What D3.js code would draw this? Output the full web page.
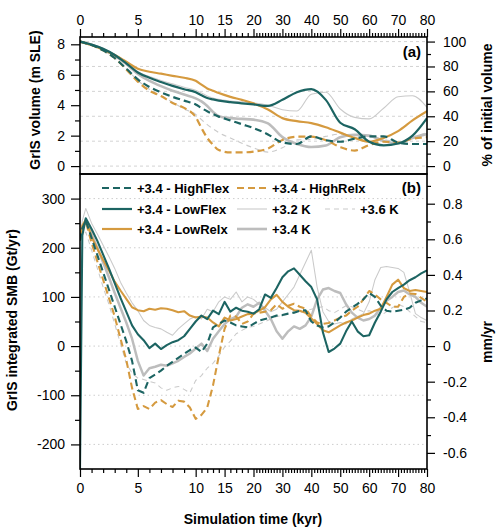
<!DOCTYPE html>
<html><head><meta charset="utf-8">
<script src="https://cdn.jsdelivr.net/npm/d3@7"></script>
<style>body{margin:0;background:#fff} text{font-family:"Liberation Sans",Arial,Helvetica,sans-serif}</style>
</head><body><svg id="c" width="500" height="531"></svg>
<script>
// ---------- data ----------
const timeA = [0,1,2,3,4,5,6,7,8,9,10,11,12,13,14,16,18,20,25,30,35,40,45,50,55,60,65,70,75,80];
const volHighFlex = [8.18,7.95,7.6,7.1,6.4,5.7,5.2,4.85,4.55,4.3,4.05,3.82,3.6,3.42,3.25,3.0,2.75,2.5,2.08,1.55,1.45,1.95,1.7,1.6,1.8,1.95,1.95,1.55,1.45,1.45];
const volHighRelx = [8.18,7.95,7.6,7.1,6.35,5.55,4.95,4.6,4.15,3.82,3.22,2.5,1.85,1.4,1.05,0.9,0.9,0.95,1.15,1.72,1.93,1.93,1.7,1.25,1.02,1.38,1.6,1.55,1.8,1.9];
const volLowFlex  = [8.18,7.98,7.7,7.3,6.75,6.15,5.8,5.52,5.27,5.05,4.85,4.65,4.47,4.38,4.3,4.2,4.12,4.05,3.95,4.35,4.85,5.05,4.35,2.85,2.42,1.6,1.36,1.48,2.0,3.15];
const volLowRelx  = [8.18,7.95,7.65,7.3,6.85,6.4,6.2,6.07,5.93,5.8,5.6,5.35,5.1,4.95,4.8,4.55,4.35,4.12,3.72,3.15,2.95,2.82,2.55,2.2,1.85,1.6,1.85,2.3,3.0,3.6];
const vol32K      = [8.18,7.98,7.72,7.35,6.85,6.2,5.88,5.62,5.4,5.18,4.98,4.8,4.6,4.47,4.38,4.28,4.22,4.15,4.0,3.7,3.62,4.72,4.85,3.75,3.2,3.1,3.8,4.55,4.62,3.85];
const vol36K      = [8.18,7.95,7.6,7.1,6.4,5.62,5.05,4.6,4.2,3.75,3.4,3.05,2.72,2.45,2.2,1.85,1.5,1.2,0.92,1.2,1.72,1.75,1.95,2.1,2.05,1.95,1.75,1.6,1.9,2.2];
const vol34K      = [8.18,7.97,7.68,7.25,6.7,6.05,5.6,5.25,4.95,4.7,4.45,4.25,3.95,3.55,3.28,3.15,3.1,3.05,2.8,1.9,1.45,1.25,1.35,1.9,2.05,2.0,1.65,1.5,1.85,2.1];

const timeB = [0,0.2,0.5,1,1.5,2,2.5,3,3.5,4,4.5,5,5.5,6,6.5,7,7.5,8,8.5,9,9.5,10,
  11,12,13,14,15,16,17,18,19,20,
  22,24,26,28,30,32,34,36,38,40,42,44,46,48,50,52,54,56,58,60,62,64,66,68,70,72,74,76,78,80];
const smbHighFlex = [215,240,255,220,185,150,115,80,45,10,-30,-90,-95,-65,-58,-50,-40,-32,-24,-16,-8,-3,
  -12,5,38,45,52,48,42,40,38,45,
  52,55,58,62,63,66,68,72,73,50,42,38,40,48,58,70,78,86,95,108,100,82,72,70,72,74,78,88,93,97];
const smbHighRelx = [215,240,253,210,172,135,98,60,15,-28,-85,-128,-122,-128,-115,-110,-118,-124,-111,-113,-125,-148,
  -140,-125,-80,-20,35,62,60,45,50,66,
  68,70,73,85,76,82,86,80,76,60,48,45,47,52,58,62,72,80,95,112,105,95,88,80,80,100,107,106,98,90];
const smbLowFlex  = [-250,225,260,238,214,186,158,128,98,70,42,24,12,-4,5,-6,2,8,12,20,35,50,
  62,55,72,65,90,70,78,72,70,66,
  75,105,98,118,140,152,158,145,132,120,95,28,-12,-5,5,30,50,30,20,22,48,70,95,110,118,125,134,140,148,154];
const smbLowRelx  = [215,245,257,222,198,175,154,131,113,96,79,73,71,76,74,77,76,73,69,71,62,58,
  60,58,48,40,58,52,55,60,65,66,
  72,79,95,104,90,80,73,72,68,56,45,32,28,35,42,48,52,58,63,66,72,76,100,125,135,118,112,114,112,110];
const smb32K      = [215,255,280,250,228,205,182,158,130,108,88,72,52,42,38,35,28,22,35,45,55,60,
  55,75,70,90,100,95,110,90,100,95,
  85,78,70,75,90,105,120,145,170,195,120,70,50,45,48,45,55,60,66,90,135,160,162,160,158,150,110,66,58,52];
const smb36K      = [215,225,232,195,158,120,85,45,5,-35,-55,-65,-68,-72,-75,-85,-90,-85,-82,-88,-95,-70,
  -60,-45,-35,-20,-2,10,25,32,38,40,
  45,50,55,60,62,66,70,68,72,75,78,80,72,68,75,82,80,75,70,72,68,62,70,78,85,80,70,60,50,48];
const smb34K      = [215,240,256,228,200,170,140,108,78,48,15,-30,-60,-45,-42,-38,-40,-35,-30,-22,-15,-5,
  5,-10,15,30,45,55,60,78,85,80,
  88,72,55,30,15,30,40,35,42,60,95,115,118,112,108,85,68,58,52,55,62,78,92,100,110,113,105,100,88,80];

const seriesNames = ["+3.4 - HighFlex","+3.4 - HighRelx","+3.4 - LowFlex","+3.2 K","+3.6 K","+3.4 - LowRelx","+3.4 K"];
const xMajorTicks = [0,5,10,15,20,30,40,50,60,70,80];
const volTicks = [0,2,4,6,8];
const pctTicks = [0,20,40,60,80,100];
const smbTicks = [-200,-100,0,100,200,300];
const mmTicks = [-0.6,-0.4,-0.2,0,0.2,0.4,0.6,0.8];
const initialVolume = 8.18;   // m SLE = 100 %
const gtPerMm = 362;          // Gt per mm SLE

// ---------- styles ----------
const TEAL = "#1c6462", ORANGE = "#d59a3f", GRAY = "#bdbdbd", LGRAY = "#cacaca";
const style = {
  "+3.4 - HighFlex": {c:TEAL, w:2.2, d:"7,4"},
  "+3.4 - HighRelx": {c:ORANGE, w:2.2, d:"7,4"},
  "+3.4 - LowFlex":  {c:TEAL, w:2.2, d:null},
  "+3.2 K":          {c:LGRAY, w:1.1, d:null},
  "+3.6 K":          {c:LGRAY, w:1.1, d:"5,4"},
  "+3.4 - LowRelx":  {c:ORANGE, w:2.2, d:null},
  "+3.4 K":          {c:GRAY, w:2.6, d:null}
};
const volData = {"+3.4 - HighFlex":volHighFlex,"+3.4 - HighRelx":volHighRelx,"+3.4 - LowFlex":volLowFlex,
  "+3.2 K":vol32K,"+3.6 K":vol36K,"+3.4 - LowRelx":volLowRelx,"+3.4 K":vol34K};
const smbData = {"+3.4 - HighFlex":smbHighFlex,"+3.4 - HighRelx":smbHighRelx,"+3.4 - LowFlex":smbLowFlex,
  "+3.2 K":smb32K,"+3.6 K":smb36K,"+3.4 - LowRelx":smbLowRelx,"+3.4 K":smb34K};
const drawOrder = ["+3.2 K","+3.6 K","+3.4 K","+3.4 - LowRelx","+3.4 - HighRelx","+3.4 - HighFlex","+3.4 - LowFlex"];

// ---------- layout ----------
const L=80, R=427, TA=37, BA=174, TB=174, BB=469;
const svg = d3.select("#c");
const x = d3.scaleLinear().domain([0,10,20,80]).range([L, L+(R-L)/3, L+(R-L)/2, R]);
const yA = d3.scaleLinear().domain([-0.52,8.48]).range([BA,TA]);
const yAr = d3.scaleLinear().domain([-0.52/initialVolume*100, 8.48/initialVolume*100]).range([BA,TA]);
const yB = d3.scaleLinear().domain([-250,350]).range([BB,TB]);
const yBr = d3.scaleLinear().domain([-250/gtPerMm, 350/gtPerMm]).range([BB,TB]);

const defs = svg.append("defs");
defs.append("clipPath").attr("id","clipA").append("rect").attr("x",L).attr("y",TA).attr("width",R-L).attr("height",BA-TA);
defs.append("clipPath").attr("id","clipB").append("rect").attr("x",L).attr("y",TB).attr("width",R-L).attr("height",BB-TB);

// grids
svg.append("g").selectAll("line").data(pctTicks).join("line")
  .attr("x1",L).attr("x2",R).attr("y1",d=>yAr(d)).attr("y2",d=>yAr(d))
  .attr("stroke","#c8c8c8").attr("stroke-width",0.8).attr("stroke-dasharray","3,3");
svg.append("g").selectAll("line").data(smbTicks).join("line")
  .attr("x1",L).attr("x2",R).attr("y1",d=>yB(d)).attr("y2",d=>yB(d))
  .attr("stroke","#c8c8c8").attr("stroke-width",0.9).attr("stroke-dasharray","1.5,3");

// lines
const lineA = d3.line().x(d=>x(d[0])).y(d=>yA(d[1])).curve(d3.curveMonotoneX);
const lineB = d3.line().x(d=>x(d[0])).y(d=>yB(d[1]));
const gA = svg.append("g").attr("clip-path","url(#clipA)");
const gB = svg.append("g").attr("clip-path","url(#clipB)");
drawOrder.forEach(n=>{
  const s = style[n];
  gA.append("path").datum(timeA.map((t,i)=>[t,volData[n][i]])).attr("d",lineA)
    .attr("fill","none").attr("stroke",s.c).attr("stroke-width",s.w).attr("stroke-dasharray",s.d)
    .attr("stroke-linejoin","round");
  gB.append("path").datum(timeB.map((t,i)=>[t,smbData[n][i]])).attr("d",lineB)
    .attr("fill","none").attr("stroke",s.c).attr("stroke-width",s.w*0.95).attr("stroke-dasharray",s.d)
    .attr("stroke-linejoin","round");
});

// frames
[[TA,BA],[TB,BB]].forEach(([t,b])=>{
  svg.append("rect").attr("x",L).attr("y",t).attr("width",R-L).attr("height",b-t)
    .attr("fill","none").attr("stroke","#000").attr("stroke-width",1.6);
});

// axes
const fmtDash = d => (d<0?"-":"") + Math.abs(d);
function addAxis(gen, scale, major, minor, majLen, minLen, tr, fmt, pad){
  const g1 = svg.append("g").attr("transform",tr).call(gen(scale).tickValues(minor).tickSize(minLen).tickFormat(""));
  g1.select(".domain").remove();
  const g2 = svg.append("g").attr("transform",tr).call(gen(scale).tickValues(major).tickSize(majLen).tickPadding(pad).tickFormat(fmt));
  g2.select(".domain").remove();
  [g1,g2].forEach(g=>{
    g.selectAll(".tick line").attr("stroke","#000").attr("stroke-width",1.2);
    g.selectAll(".tick text").attr("font-size",14).attr("fill","#000")
      .style("font-family",'"Liberation Sans",Arial,sans-serif');
  });
}
const xMinor = d3.range(0,81,1).filter(d=>!xMajorTicks.includes(d));
addAxis(d3.axisTop, x, xMajorTicks, xMinor, 8, 4, `translate(0,${TA})`, d3.format("d"), 4);
addAxis(d3.axisBottom, x, xMajorTicks, xMinor, 8, 4, `translate(0,${BB})`, d3.format("d"), 6);
addAxis(d3.axisLeft, yA, volTicks, [1,3,5,7], 9, 5, `translate(${L},0)`, d3.format("d"), 6);
addAxis(d3.axisRight, yAr, pctTicks, [10,30,50,70,90], 8, 4, `translate(${R},0)`, d3.format("d"), 8);
addAxis(d3.axisLeft, yB, smbTicks, [-150,-50,50,150,250], 9, 5, `translate(${L},0)`, fmtDash, 6);
addAxis(d3.axisRight, yBr, mmTicks, [-0.5,-0.3,-0.1,0.1,0.3,0.5,0.7,0.9], 8, 4, `translate(${R},0)`,
  d => d===0 ? "0" : (d<0?"-":"") + Math.abs(d).toFixed(1), 8);

// titles
function title(txt, xx, yy, rot){
  svg.append("text").attr("transform",`translate(${xx},${yy}) rotate(${rot})`)
    .attr("text-anchor","middle").attr("font-size",14).attr("font-weight","bold").attr("fill","#000").text(txt);
}
title("GrIS volume (m SLE)", 40, 100, -90);
title("GrIS integrated SMB (Gt/yr)", 17, 320, -90);
title("% of initial volume", 492, 105, -90);
title("mm/yr", 492, 342, -90);
title("Simulation time (kyr)", 253, 524, 0);
svg.append("text").attr("x",421).attr("y",57).attr("text-anchor","end").attr("font-size",15).attr("font-weight","bold").text("(a)");
svg.append("text").attr("x",421).attr("y",193).attr("text-anchor","end").attr("font-size",15).attr("font-weight","bold").text("(b)");

// legend
const legendPos = [
  ["+3.4 - HighFlex",102,188],["+3.4 - HighRelx",237,188],
  ["+3.4 - LowFlex",102,209],["+3.2 K",237,209],["+3.6 K",325,209],
  ["+3.4 - LowRelx",102,229],["+3.4 K",237,229]
];
legendPos.forEach(([n,lx,ly])=>{
  const s = style[n];
  svg.append("line").attr("x1",lx).attr("x2",lx+30).attr("y1",ly).attr("y2",ly)
    .attr("stroke",s.c).attr("stroke-width",s.w).attr("stroke-dasharray",s.d);
  svg.append("text").attr("x",lx+35 + (n==="+3.6 K"?0:0)).attr("y",ly+5).attr("font-size",13).attr("font-weight","bold").text(n);
});
</script></body></html>
